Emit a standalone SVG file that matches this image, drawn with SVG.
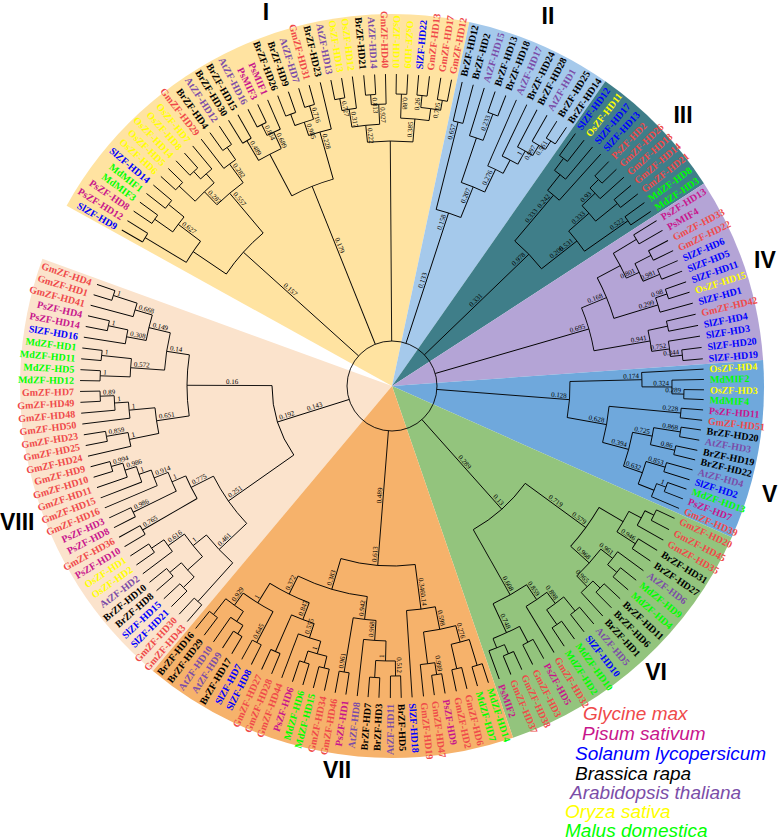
<svg xmlns="http://www.w3.org/2000/svg" width="778" height="840" viewBox="0 0 778 840">
<style>
.gm{fill:#EF4A4A}.ps{fill:#C8168C}.sl{fill:#0000FF}.br{fill:#000}.at{fill:#7B4DA8}.os{fill:#FFFF00}.md{fill:#00FF00}
.e{text-anchor:end}.m{text-anchor:middle}
.lab{font-family:"Liberation Serif",serif;font-weight:bold;font-size:10px}
.sup{font-family:"Liberation Serif",serif;font-size:7px;fill:#000}
.num{font-family:"Liberation Sans",Arial,sans-serif;font-weight:bold;font-size:23px;fill:#000}
.leg{font-family:"Liberation Sans",Arial,sans-serif;font-style:italic;font-size:19px}
</style>
<rect width="778" height="840" fill="#fff"/>
<g id="sectors">
<path d="M392 386L152.9 671A372 372 0 0 1 42.4 258.8Z" fill="#FBE3CC"/>
<path d="M392 386L66.6 205.7A372 372 0 0 1 469.3 22.1Z" fill="#FFE3A1"/>
<path d="M392 386L469.3 22.1A372 372 0 0 1 605.4 81.3Z" fill="#A5C9EB"/>
<path d="M392 386L605.4 81.3A372 372 0 0 1 704 183.4Z" fill="#3F7E89"/>
<path d="M392 386L704 183.4A372 372 0 0 1 763.1 360Z" fill="#B4A4D6"/>
<path d="M392 386L763.1 360A372 372 0 0 1 731.8 537.3Z" fill="#6FA8DC"/>
<path d="M392 386L731.8 537.3A372 372 0 0 1 513.1 737.7Z" fill="#93C47D"/>
<path d="M392 386L513.1 737.7A372 372 0 0 1 152.9 671Z" fill="#F6B26B"/>
</g>
<g id="connectors" fill="none" stroke="#000" stroke-width="0.9" transform="translate(392 386)">
<circle r="45"/>
<path d="M288 0H312" transform="rotate(210)"/><path d="M288 0H312" transform="rotate(212)"/><path d="M290 0H312" transform="rotate(214.1)"/><path d="M290 0H312" transform="rotate(216.1)"/><path d="M288 0H312" transform="rotate(218.1)"/><path d="M288 0H312" transform="rotate(220.1)"/><path d="M292 0H312" transform="rotate(222.2)"/><path d="M292 0H312" transform="rotate(224.2)"/><path d="M292 0H312" transform="rotate(226.2)"/><path d="M292 0H312" transform="rotate(228.3)"/><path d="M282 0H312" transform="rotate(230.3)"/><path d="M275 0H312" transform="rotate(232.3)"/><path d="M290 0H312" transform="rotate(234.3)"/><path d="M290 0H312" transform="rotate(236.4)"/><path d="M285 0H312" transform="rotate(238.4)"/><path d="M285 0H312" transform="rotate(240.4)"/><path d="M292 0H312" transform="rotate(242.5)"/><path d="M292 0H312" transform="rotate(244.5)"/><path d="M280 0H312" transform="rotate(246.5)"/><path d="M290 0H312" transform="rotate(248.5)"/><path d="M290 0H312" transform="rotate(250.6)"/><path d="M292 0H312" transform="rotate(252.6)"/><path d="M292 0H312" transform="rotate(254.6)"/><path d="M264 0H312" transform="rotate(256.7)"/><path d="M292 0H312" transform="rotate(258.7)"/><path d="M292 0H312" transform="rotate(260.7)"/><path d="M280 0H312" transform="rotate(262.7)"/><path d="M292 0H312" transform="rotate(264.8)"/><path d="M292 0H312" transform="rotate(266.8)"/><path d="M282 0H312" transform="rotate(268.8)"/><path d="M292 0H312" transform="rotate(270.8)"/><path d="M292 0H312" transform="rotate(272.9)"/><path d="M292 0H312" transform="rotate(274.9)"/><path d="M292 0H312" transform="rotate(276.9)"/><path d="M290 0H312" transform="rotate(279)"/><path d="M290 0H312" transform="rotate(281)"/>
<path d="M268 0H290" transform="rotate(215.1)"/><path d="M268 0H288" transform="rotate(219.1)"/><path d="M240 0H288" transform="rotate(211)"/><path d="M240 0H268" transform="rotate(217.1)"/><path d="M282 0H292" transform="rotate(227.25)"/><path d="M270 0H292" transform="rotate(223.2)"/><path d="M270 0H282" transform="rotate(228.8)"/><path d="M275 0H290" transform="rotate(235.35)"/><path d="M252 0H270" transform="rotate(226)"/><path d="M252 0H275" transform="rotate(233.8)"/><path d="M200 0H240" transform="rotate(214.05)"/><path d="M200 0H252" transform="rotate(229.9)"/><path d="M45 0H200" transform="rotate(222)"/><path d="M280 0H292" transform="rotate(243.5)"/><path d="M262 0H285" transform="rotate(239.4)"/><path d="M262 0H280" transform="rotate(245)"/><path d="M278 0H290" transform="rotate(249.55)"/><path d="M278 0H292" transform="rotate(253.6)"/><path d="M264 0H278" transform="rotate(251.6)"/><path d="M215 0H262" transform="rotate(242.2)"/><path d="M215 0H264" transform="rotate(254.15)"/><path d="M45 0H215" transform="rotate(248.2)"/><path d="M280 0H292" transform="rotate(259.7)"/><path d="M282 0H292" transform="rotate(265.8)"/><path d="M262 0H280" transform="rotate(261.2)"/><path d="M262 0H282" transform="rotate(267.3)"/><path d="M280 0H292" transform="rotate(275.9)"/><path d="M280 0H290" transform="rotate(280)"/><path d="M268 0H292" transform="rotate(271.85)"/><path d="M268 0H280" transform="rotate(277.95)"/><path d="M245 0H262" transform="rotate(264.25)"/><path d="M245 0H268" transform="rotate(274.9)"/><path d="M45 0H245" transform="rotate(269.6)"/>
<circle r="288" pathLength="360" stroke-dasharray="2 360" transform="rotate(210)"/><circle r="290" pathLength="360" stroke-dasharray="2 360" transform="rotate(214.1)"/><circle r="288" pathLength="360" stroke-dasharray="2 360" transform="rotate(218.1)"/><circle r="268" pathLength="360" stroke-dasharray="4 360" transform="rotate(215.1)"/><circle r="240" pathLength="360" stroke-dasharray="6.1 360" transform="rotate(211)"/><circle r="292" pathLength="360" stroke-dasharray="2 360" transform="rotate(222.2)"/><circle r="292" pathLength="360" stroke-dasharray="2.1 360" transform="rotate(226.2)"/><circle r="282" pathLength="360" stroke-dasharray="3.05 360" transform="rotate(227.25)"/><circle r="270" pathLength="360" stroke-dasharray="5.6 360" transform="rotate(223.2)"/><circle r="290" pathLength="360" stroke-dasharray="2.1 360" transform="rotate(234.3)"/><circle r="275" pathLength="360" stroke-dasharray="3.05 360" transform="rotate(232.3)"/><circle r="252" pathLength="360" stroke-dasharray="7.8 360" transform="rotate(226)"/><circle r="200" pathLength="360" stroke-dasharray="15.85 360" transform="rotate(214.05)"/><circle r="285" pathLength="360" stroke-dasharray="2 360" transform="rotate(238.4)"/><circle r="292" pathLength="360" stroke-dasharray="2 360" transform="rotate(242.5)"/><circle r="280" pathLength="360" stroke-dasharray="3 360" transform="rotate(243.5)"/><circle r="262" pathLength="360" stroke-dasharray="5.6 360" transform="rotate(239.4)"/><circle r="290" pathLength="360" stroke-dasharray="2.1 360" transform="rotate(248.5)"/><circle r="292" pathLength="360" stroke-dasharray="2 360" transform="rotate(252.6)"/><circle r="278" pathLength="360" stroke-dasharray="4.05 360" transform="rotate(249.55)"/><circle r="264" pathLength="360" stroke-dasharray="5.1 360" transform="rotate(251.6)"/><circle r="215" pathLength="360" stroke-dasharray="11.95 360" transform="rotate(242.2)"/><circle r="292" pathLength="360" stroke-dasharray="2 360" transform="rotate(258.7)"/><circle r="280" pathLength="360" stroke-dasharray="3 360" transform="rotate(259.7)"/><circle r="292" pathLength="360" stroke-dasharray="2 360" transform="rotate(264.8)"/><circle r="282" pathLength="360" stroke-dasharray="3 360" transform="rotate(265.8)"/><circle r="262" pathLength="360" stroke-dasharray="6.1 360" transform="rotate(261.2)"/><circle r="292" pathLength="360" stroke-dasharray="2.1 360" transform="rotate(270.8)"/><circle r="292" pathLength="360" stroke-dasharray="2 360" transform="rotate(274.9)"/><circle r="290" pathLength="360" stroke-dasharray="2 360" transform="rotate(279)"/><circle r="280" pathLength="360" stroke-dasharray="4.1 360" transform="rotate(275.9)"/><circle r="268" pathLength="360" stroke-dasharray="6.1 360" transform="rotate(271.85)"/><circle r="245" pathLength="360" stroke-dasharray="10.65 360" transform="rotate(264.25)"/>
<path d="M272 0H312" transform="rotate(283)"/><path d="M272 0H312" transform="rotate(285.1)"/><path d="M262 0H312" transform="rotate(287.2)"/><path d="M290 0H312" transform="rotate(289.3)"/><path d="M290 0H312" transform="rotate(291.4)"/><path d="M240 0H312" transform="rotate(293.5)"/><path d="M255 0H312" transform="rotate(295.6)"/><path d="M270 0H312" transform="rotate(297.7)"/><path d="M282 0H312" transform="rotate(299.8)"/><path d="M292 0H312" transform="rotate(301.9)"/><path d="M292 0H312" transform="rotate(304)"/>
<path d="M262 0H290" transform="rotate(290.35)"/><path d="M282 0H292" transform="rotate(302.95)"/><path d="M270 0H282" transform="rotate(301.4)"/><path d="M255 0H270" transform="rotate(299.55)"/><path d="M240 0H255" transform="rotate(297.6)"/><path d="M215 0H262" transform="rotate(288.8)"/><path d="M215 0H240" transform="rotate(295.55)"/><path d="M182 0H272" transform="rotate(284.05)"/><path d="M182 0H215" transform="rotate(292.2)"/><path d="M45 0H182" transform="rotate(288.1)"/>
<circle r="272" pathLength="360" stroke-dasharray="2.1 360" transform="rotate(283)"/><circle r="290" pathLength="360" stroke-dasharray="2.1 360" transform="rotate(289.3)"/><circle r="262" pathLength="360" stroke-dasharray="3.15 360" transform="rotate(287.2)"/><circle r="292" pathLength="360" stroke-dasharray="2.1 360" transform="rotate(301.9)"/><circle r="282" pathLength="360" stroke-dasharray="3.15 360" transform="rotate(299.8)"/><circle r="270" pathLength="360" stroke-dasharray="3.7 360" transform="rotate(297.7)"/><circle r="255" pathLength="360" stroke-dasharray="3.95 360" transform="rotate(295.6)"/><circle r="240" pathLength="360" stroke-dasharray="4.1 360" transform="rotate(293.5)"/><circle r="215" pathLength="360" stroke-dasharray="6.75 360" transform="rotate(288.8)"/><circle r="182" pathLength="360" stroke-dasharray="8.15 360" transform="rotate(284.05)"/>
<path d="M285 0H312" transform="rotate(306)"/><path d="M285 0H312" transform="rotate(308)"/><path d="M270 0H312" transform="rotate(310)"/><path d="M250 0H312" transform="rotate(312)"/><path d="M292 0H312" transform="rotate(314)"/><path d="M292 0H312" transform="rotate(316)"/><path d="M280 0H312" transform="rotate(318)"/><path d="M290 0H312" transform="rotate(320)"/><path d="M290 0H312" transform="rotate(322)"/><path d="M288 0H312" transform="rotate(324)"/><path d="M288 0H312" transform="rotate(326)"/>
<path d="M270 0H285" transform="rotate(307)"/><path d="M250 0H270" transform="rotate(308.5)"/><path d="M280 0H292" transform="rotate(315)"/><path d="M262 0H280" transform="rotate(316.5)"/><path d="M262 0H290" transform="rotate(321)"/><path d="M235 0H262" transform="rotate(318.75)"/><path d="M235 0H288" transform="rotate(325)"/><path d="M190 0H250" transform="rotate(310.25)"/><path d="M190 0H235" transform="rotate(321.9)"/><path d="M45 0H190" transform="rotate(316.1)"/>
<circle r="285" pathLength="360" stroke-dasharray="2 360" transform="rotate(306)"/><circle r="270" pathLength="360" stroke-dasharray="3 360" transform="rotate(307)"/><circle r="250" pathLength="360" stroke-dasharray="3.5 360" transform="rotate(308.5)"/><circle r="292" pathLength="360" stroke-dasharray="2 360" transform="rotate(314)"/><circle r="280" pathLength="360" stroke-dasharray="3 360" transform="rotate(315)"/><circle r="290" pathLength="360" stroke-dasharray="2 360" transform="rotate(320)"/><circle r="262" pathLength="360" stroke-dasharray="4.5 360" transform="rotate(316.5)"/><circle r="288" pathLength="360" stroke-dasharray="2 360" transform="rotate(324)"/><circle r="235" pathLength="360" stroke-dasharray="6.25 360" transform="rotate(318.75)"/><circle r="190" pathLength="360" stroke-dasharray="11.65 360" transform="rotate(310.25)"/>
<path d="M285 0H312" transform="rotate(328)"/><path d="M285 0H312" transform="rotate(330.1)"/><path d="M290 0H312" transform="rotate(332.2)"/><path d="M290 0H312" transform="rotate(334.3)"/><path d="M290 0H312" transform="rotate(336.3)"/><path d="M290 0H312" transform="rotate(338.4)"/><path d="M290 0H312" transform="rotate(340.5)"/><path d="M290 0H312" transform="rotate(342.5)"/><path d="M278 0H312" transform="rotate(344.6)"/><path d="M282 0H312" transform="rotate(346.7)"/><path d="M282 0H312" transform="rotate(348.8)"/><path d="M280 0H312" transform="rotate(350.8)"/><path d="M292 0H312" transform="rotate(352.9)"/><path d="M292 0H312" transform="rotate(355)"/>
<path d="M272 0H290" transform="rotate(333.25)"/><path d="M272 0H290" transform="rotate(337.35)"/><path d="M258 0H285" transform="rotate(329.05)"/><path d="M258 0H272" transform="rotate(335.3)"/><path d="M278 0H290" transform="rotate(341.5)"/><path d="M232 0H258" transform="rotate(332.2)"/><path d="M232 0H278" transform="rotate(343.05)"/><path d="M280 0H292" transform="rotate(353.95)"/><path d="M262 0H282" transform="rotate(347.75)"/><path d="M262 0H280" transform="rotate(352.4)"/><path d="M205 0H232" transform="rotate(337.6)"/><path d="M205 0H262" transform="rotate(350.1)"/><path d="M45 0H205" transform="rotate(343.85)"/>
<circle r="285" pathLength="360" stroke-dasharray="2.1 360" transform="rotate(328)"/><circle r="290" pathLength="360" stroke-dasharray="2.1 360" transform="rotate(332.2)"/><circle r="290" pathLength="360" stroke-dasharray="2.1 360" transform="rotate(336.3)"/><circle r="272" pathLength="360" stroke-dasharray="4.1 360" transform="rotate(333.25)"/><circle r="258" pathLength="360" stroke-dasharray="6.25 360" transform="rotate(329.05)"/><circle r="290" pathLength="360" stroke-dasharray="2 360" transform="rotate(340.5)"/><circle r="278" pathLength="360" stroke-dasharray="3.1 360" transform="rotate(341.5)"/><circle r="232" pathLength="360" stroke-dasharray="10.85 360" transform="rotate(332.2)"/><circle r="282" pathLength="360" stroke-dasharray="2.1 360" transform="rotate(346.7)"/><circle r="292" pathLength="360" stroke-dasharray="2.1 360" transform="rotate(352.9)"/><circle r="280" pathLength="360" stroke-dasharray="3.15 360" transform="rotate(350.8)"/><circle r="262" pathLength="360" stroke-dasharray="4.65 360" transform="rotate(347.75)"/><circle r="205" pathLength="360" stroke-dasharray="12.5 360" transform="rotate(337.6)"/>
<path d="M250 0H312" transform="rotate(-3.1)"/><path d="M280 0H312" transform="rotate(-1.2)"/><path d="M292 0H312" transform="rotate(0.7)"/><path d="M292 0H312" transform="rotate(2.5)"/><path d="M290 0H312" transform="rotate(4.4)"/><path d="M290 0H312" transform="rotate(6.3)"/><path d="M292 0H312" transform="rotate(8.1)"/><path d="M292 0H312" transform="rotate(10)"/><path d="M290 0H312" transform="rotate(11.9)"/><path d="M290 0H312" transform="rotate(13.7)"/><path d="M285 0H312" transform="rotate(15.6)"/><path d="M285 0H312" transform="rotate(17.5)"/><path d="M292 0H312" transform="rotate(19.3)"/><path d="M292 0H312" transform="rotate(21.2)"/><path d="M282 0H312" transform="rotate(23.1)"/>
<path d="M280 0H292" transform="rotate(1.6)"/><path d="M250 0H280" transform="rotate(0.2)"/><path d="M265 0H292" transform="rotate(9.05)"/><path d="M265 0H290" transform="rotate(12.8)"/><path d="M282 0H292" transform="rotate(20.25)"/><path d="M265 0H285" transform="rotate(16.55)"/><path d="M265 0H282" transform="rotate(21.7)"/><path d="M245 0H265" transform="rotate(10.9)"/><path d="M245 0H265" transform="rotate(19.1)"/><path d="M218 0H290" transform="rotate(5.35)"/><path d="M218 0H245" transform="rotate(15)"/><path d="M178 0H250" transform="rotate(-1.45)"/><path d="M178 0H218" transform="rotate(10.2)"/><path d="M45 0H178" transform="rotate(4.4)"/>
<circle r="292" pathLength="360" stroke-dasharray="1.8 360" transform="rotate(0.7)"/><circle r="280" pathLength="360" stroke-dasharray="2.8 360" transform="rotate(-1.2)"/><circle r="250" pathLength="360" stroke-dasharray="3.3 360" transform="rotate(-3.1)"/><circle r="290" pathLength="360" stroke-dasharray="1.9 360" transform="rotate(4.4)"/><circle r="292" pathLength="360" stroke-dasharray="1.9 360" transform="rotate(8.1)"/><circle r="290" pathLength="360" stroke-dasharray="1.8 360" transform="rotate(11.9)"/><circle r="265" pathLength="360" stroke-dasharray="3.75 360" transform="rotate(9.05)"/><circle r="285" pathLength="360" stroke-dasharray="1.9 360" transform="rotate(15.6)"/><circle r="292" pathLength="360" stroke-dasharray="1.9 360" transform="rotate(19.3)"/><circle r="282" pathLength="360" stroke-dasharray="2.85 360" transform="rotate(20.25)"/><circle r="265" pathLength="360" stroke-dasharray="5.15 360" transform="rotate(16.55)"/><circle r="245" pathLength="360" stroke-dasharray="8.2 360" transform="rotate(10.9)"/><circle r="218" pathLength="360" stroke-dasharray="9.65 360" transform="rotate(5.35)"/><circle r="178" pathLength="360" stroke-dasharray="11.65 360" transform="rotate(-1.45)"/>
<path d="M292 0H312" transform="rotate(25.1)"/><path d="M292 0H312" transform="rotate(27.4)"/><path d="M282 0H312" transform="rotate(29.6)"/><path d="M290 0H312" transform="rotate(31.8)"/><path d="M290 0H312" transform="rotate(34.1)"/><path d="M280 0H312" transform="rotate(36.3)"/><path d="M292 0H312" transform="rotate(38.5)"/><path d="M292 0H312" transform="rotate(40.8)"/><path d="M290 0H312" transform="rotate(43)"/><path d="M290 0H312" transform="rotate(45.3)"/><path d="M280 0H312" transform="rotate(47.5)"/><path d="M290 0H312" transform="rotate(49.7)"/><path d="M290 0H312" transform="rotate(52)"/><path d="M290 0H312" transform="rotate(54.2)"/><path d="M290 0H312" transform="rotate(56.5)"/><path d="M258 0H312" transform="rotate(58.7)"/><path d="M290 0H312" transform="rotate(60.9)"/><path d="M290 0H312" transform="rotate(63.2)"/><path d="M292 0H312" transform="rotate(65.4)"/><path d="M292 0H312" transform="rotate(67.6)"/><path d="M282 0H312" transform="rotate(69.9)"/>
<path d="M282 0H292" transform="rotate(26.25)"/><path d="M268 0H282" transform="rotate(27.9)"/><path d="M268 0H290" transform="rotate(32.95)"/><path d="M280 0H292" transform="rotate(39.65)"/><path d="M280 0H290" transform="rotate(44.15)"/><path d="M265 0H280" transform="rotate(38)"/><path d="M265 0H280" transform="rotate(45.8)"/><path d="M240 0H268" transform="rotate(30.4)"/><path d="M240 0H265" transform="rotate(41.9)"/><path d="M272 0H290" transform="rotate(50.85)"/><path d="M272 0H290" transform="rotate(55.35)"/><path d="M258 0H272" transform="rotate(53.1)"/><path d="M282 0H292" transform="rotate(66.5)"/><path d="M272 0H290" transform="rotate(62.05)"/><path d="M272 0H282" transform="rotate(68.2)"/><path d="M240 0H258" transform="rotate(55.9)"/><path d="M240 0H272" transform="rotate(65.1)"/><path d="M165 0H240" transform="rotate(36.15)"/><path d="M165 0H240" transform="rotate(60.5)"/><path d="M45 0H165" transform="rotate(48.3)"/>
<circle r="292" pathLength="360" stroke-dasharray="2.3 360" transform="rotate(25.1)"/><circle r="282" pathLength="360" stroke-dasharray="3.35 360" transform="rotate(26.25)"/><circle r="290" pathLength="360" stroke-dasharray="2.3 360" transform="rotate(31.8)"/><circle r="268" pathLength="360" stroke-dasharray="5.05 360" transform="rotate(27.9)"/><circle r="292" pathLength="360" stroke-dasharray="2.3 360" transform="rotate(38.5)"/><circle r="280" pathLength="360" stroke-dasharray="3.35 360" transform="rotate(36.3)"/><circle r="290" pathLength="360" stroke-dasharray="2.3 360" transform="rotate(43)"/><circle r="280" pathLength="360" stroke-dasharray="3.35 360" transform="rotate(44.15)"/><circle r="265" pathLength="360" stroke-dasharray="7.8 360" transform="rotate(38)"/><circle r="240" pathLength="360" stroke-dasharray="11.5 360" transform="rotate(30.4)"/><circle r="290" pathLength="360" stroke-dasharray="2.3 360" transform="rotate(49.7)"/><circle r="290" pathLength="360" stroke-dasharray="2.3 360" transform="rotate(54.2)"/><circle r="272" pathLength="360" stroke-dasharray="4.5 360" transform="rotate(50.85)"/><circle r="258" pathLength="360" stroke-dasharray="5.6 360" transform="rotate(53.1)"/><circle r="290" pathLength="360" stroke-dasharray="2.3 360" transform="rotate(60.9)"/><circle r="292" pathLength="360" stroke-dasharray="2.2 360" transform="rotate(65.4)"/><circle r="282" pathLength="360" stroke-dasharray="3.4 360" transform="rotate(66.5)"/><circle r="272" pathLength="360" stroke-dasharray="6.15 360" transform="rotate(62.05)"/><circle r="240" pathLength="360" stroke-dasharray="9.2 360" transform="rotate(55.9)"/><circle r="165" pathLength="360" stroke-dasharray="24.35 360" transform="rotate(36.15)"/>
<path d="M292 0H312" transform="rotate(72)"/><path d="M292 0H312" transform="rotate(74.1)"/><path d="M290 0H312" transform="rotate(76.1)"/><path d="M290 0H312" transform="rotate(78.1)"/><path d="M292 0H312" transform="rotate(80.2)"/><path d="M292 0H312" transform="rotate(82.2)"/><path d="M280 0H312" transform="rotate(84.2)"/><path d="M225 0H312" transform="rotate(86.3)"/><path d="M290 0H312" transform="rotate(88.3)"/><path d="M290 0H312" transform="rotate(90.3)"/><path d="M292 0H312" transform="rotate(92.4)"/><path d="M292 0H312" transform="rotate(94.4)"/><path d="M255 0H312" transform="rotate(96.4)"/><path d="M290 0H312" transform="rotate(98.5)"/><path d="M290 0H312" transform="rotate(100.5)"/><path d="M290 0H312" transform="rotate(102.5)"/><path d="M290 0H312" transform="rotate(104.6)"/><path d="M290 0H312" transform="rotate(106.6)"/><path d="M290 0H312" transform="rotate(108.6)"/><path d="M265 0H312" transform="rotate(110.7)"/><path d="M290 0H312" transform="rotate(112.7)"/><path d="M290 0H312" transform="rotate(114.7)"/><path d="M290 0H312" transform="rotate(116.8)"/><path d="M290 0H312" transform="rotate(118.8)"/><path d="M292 0H312" transform="rotate(120.9)"/><path d="M292 0H312" transform="rotate(122.9)"/><path d="M282 0H312" transform="rotate(124.9)"/><path d="M290 0H312" transform="rotate(127)"/><path d="M290 0H312" transform="rotate(129)"/>
<path d="M265 0H292" transform="rotate(73.05)"/><path d="M265 0H290" transform="rotate(77.1)"/><path d="M280 0H292" transform="rotate(81.2)"/><path d="M248 0H265" transform="rotate(75.1)"/><path d="M248 0H280" transform="rotate(82.7)"/><path d="M225 0H248" transform="rotate(78.9)"/><path d="M275 0H290" transform="rotate(89.3)"/><path d="M275 0H292" transform="rotate(93.4)"/><path d="M255 0H275" transform="rotate(91.35)"/><path d="M235 0H255" transform="rotate(93.9)"/><path d="M235 0H290" transform="rotate(99.5)"/><path d="M278 0H290" transform="rotate(103.55)"/><path d="M278 0H290" transform="rotate(107.6)"/><path d="M265 0H278" transform="rotate(105.6)"/><path d="M250 0H265" transform="rotate(108.15)"/><path d="M250 0H290" transform="rotate(113.7)"/><path d="M282 0H292" transform="rotate(121.9)"/><path d="M270 0H282" transform="rotate(123.4)"/><path d="M270 0H290" transform="rotate(128)"/><path d="M255 0H290" transform="rotate(117.8)"/><path d="M255 0H270" transform="rotate(125.7)"/><path d="M232 0H250" transform="rotate(110.9)"/><path d="M232 0H255" transform="rotate(121.75)"/><path d="M212 0H235" transform="rotate(96.7)"/><path d="M212 0H232" transform="rotate(116.3)"/><path d="M180 0H225" transform="rotate(82.6)"/><path d="M180 0H212" transform="rotate(106.5)"/><path d="M45 0H180" transform="rotate(94.55)"/>
<circle r="292" pathLength="360" stroke-dasharray="2.1 360" transform="rotate(72)"/><circle r="290" pathLength="360" stroke-dasharray="2 360" transform="rotate(76.1)"/><circle r="265" pathLength="360" stroke-dasharray="4.05 360" transform="rotate(73.05)"/><circle r="292" pathLength="360" stroke-dasharray="2 360" transform="rotate(80.2)"/><circle r="280" pathLength="360" stroke-dasharray="3 360" transform="rotate(81.2)"/><circle r="248" pathLength="360" stroke-dasharray="7.6 360" transform="rotate(75.1)"/><circle r="225" pathLength="360" stroke-dasharray="7.4 360" transform="rotate(78.9)"/><circle r="290" pathLength="360" stroke-dasharray="2 360" transform="rotate(88.3)"/><circle r="292" pathLength="360" stroke-dasharray="2 360" transform="rotate(92.4)"/><circle r="275" pathLength="360" stroke-dasharray="4.1 360" transform="rotate(89.3)"/><circle r="255" pathLength="360" stroke-dasharray="5.05 360" transform="rotate(91.35)"/><circle r="290" pathLength="360" stroke-dasharray="2 360" transform="rotate(98.5)"/><circle r="235" pathLength="360" stroke-dasharray="5.6 360" transform="rotate(93.9)"/><circle r="290" pathLength="360" stroke-dasharray="2.1 360" transform="rotate(102.5)"/><circle r="290" pathLength="360" stroke-dasharray="2 360" transform="rotate(106.6)"/><circle r="278" pathLength="360" stroke-dasharray="4.05 360" transform="rotate(103.55)"/><circle r="265" pathLength="360" stroke-dasharray="5.1 360" transform="rotate(105.6)"/><circle r="290" pathLength="360" stroke-dasharray="2 360" transform="rotate(112.7)"/><circle r="250" pathLength="360" stroke-dasharray="5.55 360" transform="rotate(108.15)"/><circle r="290" pathLength="360" stroke-dasharray="2 360" transform="rotate(116.8)"/><circle r="292" pathLength="360" stroke-dasharray="2 360" transform="rotate(120.9)"/><circle r="282" pathLength="360" stroke-dasharray="3 360" transform="rotate(121.9)"/><circle r="290" pathLength="360" stroke-dasharray="2 360" transform="rotate(127)"/><circle r="270" pathLength="360" stroke-dasharray="4.6 360" transform="rotate(123.4)"/><circle r="255" pathLength="360" stroke-dasharray="7.9 360" transform="rotate(117.8)"/><circle r="232" pathLength="360" stroke-dasharray="10.85 360" transform="rotate(110.9)"/><circle r="212" pathLength="360" stroke-dasharray="19.6 360" transform="rotate(96.7)"/><circle r="180" pathLength="360" stroke-dasharray="23.9 360" transform="rotate(82.6)"/>
<path d="M290 0H312" transform="rotate(131)"/><path d="M290 0H312" transform="rotate(133)"/><path d="M290 0H312" transform="rotate(135)"/><path d="M290 0H312" transform="rotate(137)"/><path d="M290 0H312" transform="rotate(139)"/><path d="M290 0H312" transform="rotate(141)"/><path d="M275 0H312" transform="rotate(143)"/><path d="M290 0H312" transform="rotate(145)"/><path d="M290 0H312" transform="rotate(147)"/><path d="M288 0H312" transform="rotate(149)"/><path d="M288 0H312" transform="rotate(151)"/><path d="M288 0H312" transform="rotate(153)"/><path d="M288 0H312" transform="rotate(155)"/><path d="M255 0H312" transform="rotate(157)"/><path d="M268 0H312" transform="rotate(159)"/><path d="M280 0H312" transform="rotate(161)"/><path d="M292 0H312" transform="rotate(163)"/><path d="M292 0H312" transform="rotate(165)"/><path d="M268 0H312" transform="rotate(167)"/><path d="M290 0H312" transform="rotate(169)"/><path d="M290 0H312" transform="rotate(171)"/><path d="M264 0H312" transform="rotate(173)"/><path d="M278 0H312" transform="rotate(175)"/><path d="M292 0H312" transform="rotate(177)"/><path d="M292 0H312" transform="rotate(179)"/><path d="M292 0H312" transform="rotate(181)"/><path d="M292 0H312" transform="rotate(183)"/><path d="M292 0H312" transform="rotate(185)"/><path d="M292 0H312" transform="rotate(187)"/><path d="M270 0H312" transform="rotate(189)"/><path d="M290 0H312" transform="rotate(191)"/><path d="M290 0H312" transform="rotate(193)"/><path d="M268 0H312" transform="rotate(195)"/><path d="M293 0H312" transform="rotate(197)"/><path d="M293 0H312" transform="rotate(199)"/>
<path d="M268 0H293" transform="rotate(198)"/><path d="M270 0H290" transform="rotate(192)"/><path d="M250 0H268" transform="rotate(196.5)"/><path d="M250 0H270" transform="rotate(190.5)"/><path d="M262 0H292" transform="rotate(186)"/><path d="M262 0H292" transform="rotate(182)"/><path d="M228 0H250" transform="rotate(193.5)"/><path d="M228 0H262" transform="rotate(184)"/><path d="M278 0H292" transform="rotate(178)"/><path d="M264 0H278" transform="rotate(176.5)"/><path d="M268 0H290" transform="rotate(170)"/><path d="M238 0H264" transform="rotate(174.75)"/><path d="M238 0H268" transform="rotate(168.5)"/><path d="M205 0H228" transform="rotate(188.75)"/><path d="M205 0H238" transform="rotate(171.6)"/><path d="M280 0H292" transform="rotate(164)"/><path d="M268 0H280" transform="rotate(162.5)"/><path d="M255 0H268" transform="rotate(160.75)"/><path d="M240 0H255" transform="rotate(158.9)"/><path d="M240 0H288" transform="rotate(154)"/><path d="M225 0H240" transform="rotate(156.45)"/><path d="M225 0H288" transform="rotate(150)"/><path d="M275 0H290" transform="rotate(146)"/><path d="M275 0H290" transform="rotate(140)"/><path d="M275 0H290" transform="rotate(136)"/><path d="M255 0H275" transform="rotate(144.5)"/><path d="M255 0H275" transform="rotate(138)"/><path d="M238 0H255" transform="rotate(141.25)"/><path d="M238 0H290" transform="rotate(132)"/><path d="M200 0H225" transform="rotate(153.2)"/><path d="M200 0H238" transform="rotate(136.6)"/><path d="M120 0H200" transform="rotate(144.9)"/><path d="M120 0H205" transform="rotate(180.2)"/><path d="M45 0H120" transform="rotate(162.55)"/>
<circle r="293" pathLength="360" stroke-dasharray="2 360" transform="rotate(197)"/><circle r="268" pathLength="360" stroke-dasharray="3 360" transform="rotate(195)"/><circle r="290" pathLength="360" stroke-dasharray="2 360" transform="rotate(191)"/><circle r="270" pathLength="360" stroke-dasharray="3 360" transform="rotate(189)"/><circle r="250" pathLength="360" stroke-dasharray="6 360" transform="rotate(190.5)"/><circle r="292" pathLength="360" stroke-dasharray="2 360" transform="rotate(185)"/><circle r="292" pathLength="360" stroke-dasharray="2 360" transform="rotate(181)"/><circle r="262" pathLength="360" stroke-dasharray="4 360" transform="rotate(182)"/><circle r="228" pathLength="360" stroke-dasharray="9.5 360" transform="rotate(184)"/><circle r="292" pathLength="360" stroke-dasharray="2 360" transform="rotate(177)"/><circle r="278" pathLength="360" stroke-dasharray="3 360" transform="rotate(175)"/><circle r="264" pathLength="360" stroke-dasharray="3.5 360" transform="rotate(173)"/><circle r="290" pathLength="360" stroke-dasharray="2 360" transform="rotate(169)"/><circle r="268" pathLength="360" stroke-dasharray="3 360" transform="rotate(167)"/><circle r="238" pathLength="360" stroke-dasharray="6.25 360" transform="rotate(168.5)"/><circle r="205" pathLength="360" stroke-dasharray="17.15 360" transform="rotate(171.6)"/><circle r="292" pathLength="360" stroke-dasharray="2 360" transform="rotate(163)"/><circle r="280" pathLength="360" stroke-dasharray="3 360" transform="rotate(161)"/><circle r="268" pathLength="360" stroke-dasharray="3.5 360" transform="rotate(159)"/><circle r="255" pathLength="360" stroke-dasharray="3.75 360" transform="rotate(157)"/><circle r="288" pathLength="360" stroke-dasharray="2 360" transform="rotate(153)"/><circle r="240" pathLength="360" stroke-dasharray="4.9 360" transform="rotate(154)"/><circle r="288" pathLength="360" stroke-dasharray="2 360" transform="rotate(149)"/><circle r="225" pathLength="360" stroke-dasharray="6.45 360" transform="rotate(150)"/><circle r="290" pathLength="360" stroke-dasharray="2 360" transform="rotate(145)"/><circle r="275" pathLength="360" stroke-dasharray="3 360" transform="rotate(143)"/><circle r="290" pathLength="360" stroke-dasharray="2 360" transform="rotate(139)"/><circle r="290" pathLength="360" stroke-dasharray="2 360" transform="rotate(135)"/><circle r="275" pathLength="360" stroke-dasharray="4 360" transform="rotate(136)"/><circle r="255" pathLength="360" stroke-dasharray="6.5 360" transform="rotate(138)"/><circle r="290" pathLength="360" stroke-dasharray="2 360" transform="rotate(131)"/><circle r="238" pathLength="360" stroke-dasharray="9.25 360" transform="rotate(132)"/><circle r="200" pathLength="360" stroke-dasharray="16.6 360" transform="rotate(136.6)"/><circle r="120" pathLength="360" stroke-dasharray="35.3 360" transform="rotate(144.9)"/>
</g>
<g id="support" class="sup" transform="translate(392 386)">
<text transform="rotate(37.1)" x="-265" y="-1.5">0.627</text><text transform="rotate(46)" x="-267" y="-1.5">0.287</text><text transform="rotate(53.8)" x="-272" y="-1.5">0.282</text><text transform="rotate(49.9)" x="-249" y="-1.5">0.557</text><text transform="rotate(59.4)" x="-282" y="-1.5">0.489</text><text transform="rotate(63.5)" x="-289" y="-1.5">0.804</text><text transform="rotate(65)" x="-277" y="-1.5">0.689</text><text transform="rotate(73.6)" x="-289" y="-1.5">0.716</text><text transform="rotate(71.6)" x="-275" y="-1.5">0.985</text><text transform="rotate(74.15)" x="-261" y="-1.5">0.228</text><text transform="rotate(79.7)" x="-289" y="-1.5">0.727</text><text transform="rotate(81.2)" x="-277" y="-1.5">0.317</text><text transform="rotate(85.8)" x="-289" y="-1.5">0.813</text><text transform="rotate(87.3)" x="-279" y="-1.5">0.927</text><text transform="rotate(84.25)" x="-259" y="-1.5">0.222</text><text transform="rotate(91.85)" x="-289" y="-1.5">0.88</text><text class="e" transform="rotate(275.9)" x="289" y="-1.5">0.26</text><text class="e" transform="rotate(280)" x="287" y="-1.5">0.705</text><text class="e" transform="rotate(274.9)" x="265" y="-1.5">0.385</text><text class="m" transform="rotate(42)" x="-140" y="-1.5">0.157</text><text class="m" transform="rotate(68.2)" x="-150" y="-1.5">0.179</text>
<text class="e" transform="rotate(284.05)" x="269" y="-1.5">0.657</text><text class="e" transform="rotate(290.35)" x="287" y="-1.5">0.233</text><text class="e" transform="rotate(302.95)" x="289" y="-1.5">0.561</text><text class="e" transform="rotate(301.4)" x="279" y="-1.5">0.997</text><text class="e" transform="rotate(299.55)" x="267" y="-1.5">1</text><text class="e" transform="rotate(295.55)" x="237" y="-1.5">0.276</text><text class="e" transform="rotate(292.2)" x="212" y="-1.5">0.207</text><text class="e" transform="rotate(288.1)" x="179" y="-1.5">0.158</text><text class="m" transform="rotate(288.1)" x="110" y="-1.5">0.133</text>
<text class="e" transform="rotate(310.25)" x="247" y="-1.5">0.242</text><text class="e" transform="rotate(316.5)" x="277" y="-1.5">0.93</text><text class="e" transform="rotate(318.75)" x="259" y="-1.5">0.333</text><text class="e" transform="rotate(325)" x="285" y="-1.5">0.522</text><text class="e" transform="rotate(321.9)" x="232" y="-1.5">0.531</text><text class="e" transform="rotate(316.1)" x="187" y="-1.5">0.978</text><text class="m" transform="rotate(321.9)" x="212" y="-1.5">0.206</text><text class="m" transform="rotate(310.25)" x="220" y="-1.5">0.333</text><text class="m" transform="rotate(316.1)" x="120" y="-1.5">0.331</text>
<text class="e" transform="rotate(337.35)" x="287" y="-1.5">0.981</text><text class="e" transform="rotate(335.3)" x="269" y="-1.5">0.801</text><text class="e" transform="rotate(341.5)" x="287" y="-1.5">0.98</text><text class="e" transform="rotate(343.05)" x="275" y="-1.5">0.299</text><text class="e" transform="rotate(337.6)" x="229" y="-1.5">0.168</text><text class="e" transform="rotate(353.95)" x="289" y="-1.5">0.344</text><text class="e" transform="rotate(352.4)" x="277" y="-1.5">0.752</text><text class="e" transform="rotate(350.1)" x="259" y="-1.5">0.941</text><text class="e" transform="rotate(343.85)" x="202" y="-1.5">0.695</text>
<text class="e" transform="rotate(1.6)" x="289" y="-1.5">0.289</text><text class="e" transform="rotate(0.2)" x="277" y="-1.5">0.324</text><text class="e" transform="rotate(-1.45)" x="247" y="-1.5">0.174</text><text class="e" transform="rotate(5.35)" x="287" y="-1.5">0.228</text><text class="e" transform="rotate(9.05)" x="289" y="-1.5">0.868</text><text class="e" transform="rotate(12.8)" x="287" y="-1.5">0.86</text><text class="e" transform="rotate(10.9)" x="262" y="-1.5">0.725</text><text class="e" transform="rotate(16.55)" x="282" y="-1.5">0.853</text><text class="e" transform="rotate(20.25)" x="289" y="-1.5">1</text><text class="e" transform="rotate(19.1)" x="262" y="-1.5">0.632</text><text class="e" transform="rotate(15)" x="242" y="-1.5">0.394</text><text class="e" transform="rotate(10.2)" x="215" y="-1.5">0.628</text><text class="e" transform="rotate(4.4)" x="175" y="-1.5">0.128</text>
<text class="e" transform="rotate(32.95)" x="287" y="-1.5">0.946</text><text class="e" transform="rotate(38)" x="277" y="-1.5">0.961</text><text class="e" transform="rotate(45.8)" x="277" y="-1.5">0.965</text><text class="e" transform="rotate(41.9)" x="262" y="-1.5">0.968</text><text class="e" transform="rotate(36.15)" x="237" y="-1.5">0.579</text><text class="e" transform="rotate(53.1)" x="269" y="-1.5">0.898</text><text class="e" transform="rotate(55.9)" x="255" y="-1.5">0.859</text><text class="e" transform="rotate(65.1)" x="269" y="-1.5">0.748</text><text class="e" transform="rotate(60.5)" x="237" y="-1.5">0.608</text><text class="e" transform="rotate(48.3)" x="162" y="-1.5">0.13</text><text class="m" transform="rotate(36.15)" x="200" y="-1.5">0.719</text><text class="m" transform="rotate(48.3)" x="105" y="-1.5">0.289</text>
<text class="e" transform="rotate(75.1)" x="262" y="-1.5">0.276</text><text class="e" transform="rotate(81.2)" x="289" y="-1.5">0.999</text><text class="e" transform="rotate(78.9)" x="245" y="-1.5">0.598</text><text class="e" transform="rotate(82.6)" x="222" y="-1.5">0.14</text><text class="e" transform="rotate(89.3)" x="287" y="-1.5">0.512</text><text transform="rotate(-88.65)" x="-272" y="-1.5">1</text><text transform="rotate(-86.1)" x="-252" y="-1.5">0.968</text><text transform="rotate(-80.5)" x="-287" y="-1.5">0.961</text><text transform="rotate(-83.3)" x="-232" y="-1.5">0.942</text><text transform="rotate(-74.4)" x="-275" y="-1.5">1</text><text transform="rotate(-71.85)" x="-262" y="-1.5">0.555</text><text transform="rotate(-69.1)" x="-247" y="-1.5">0.847</text><text transform="rotate(-62.2)" x="-287" y="-1.5">0.645</text><text transform="rotate(-54.3)" x="-267" y="-1.5">0.929</text><text transform="rotate(-58.25)" x="-252" y="-1.5">1</text><text transform="rotate(-63.7)" x="-229" y="-1.5">0.372</text><text transform="rotate(-73.5)" x="-209" y="-1.5">0.383</text><text transform="rotate(-85.45)" x="-177" y="-1.5">0.613</text><text class="m" transform="rotate(82.6)" x="202" y="-1.5">0.346</text><text class="m" transform="rotate(-85.45)" x="-110" y="-1.5">0.489</text>
<text transform="rotate(18)" x="-290" y="-1.5">1</text><text transform="rotate(16.5)" x="-265" y="-1.5">0.668</text><text transform="rotate(12)" x="-287" y="-1.5">1</text><text transform="rotate(10.5)" x="-267" y="-1.5">0.308</text><text transform="rotate(13.5)" x="-247" y="-1.5">0.149</text><text transform="rotate(6)" x="-289" y="-1.5">1</text><text transform="rotate(2)" x="-289" y="-1.5">1</text><text transform="rotate(4)" x="-259" y="-1.5">0.572</text><text transform="rotate(8.75)" x="-225" y="-1.5">0.14</text><text transform="rotate(-2)" x="-289" y="-1.5">0.89</text><text transform="rotate(-3.5)" x="-275" y="-1.5">1</text><text transform="rotate(-5.25)" x="-261" y="-1.5">1</text><text transform="rotate(-10)" x="-287" y="-1.5">0.859</text><text transform="rotate(-11.5)" x="-265" y="-1.5">1</text><text transform="rotate(-8.4)" x="-235" y="-1.5">0.651</text><text class="m" transform="rotate(0.2)" x="-160" y="-1.5">0.16</text><text transform="rotate(-16)" x="-289" y="-1.5">0.994</text><text transform="rotate(-17.5)" x="-277" y="-1.5">0.986</text><text transform="rotate(-19.25)" x="-265" y="-1.5">1</text><text transform="rotate(-21.1)" x="-252" y="-1.5">0.914</text><text transform="rotate(-26)" x="-285" y="-1.5">0.986</text><text transform="rotate(-23.55)" x="-237" y="-1.5">1</text><text transform="rotate(-26.8)" x="-222" y="-1.5">0.775</text><text transform="rotate(-30)" x="-285" y="-1.5">0.765</text><text transform="rotate(-35.5)" x="-272" y="-1.5">0.616</text><text transform="rotate(-38.75)" x="-252" y="-1.5">1</text><text transform="rotate(-43.4)" x="-235" y="-1.5">0.461</text><text transform="rotate(-35.1)" x="-197" y="-1.5">0.251</text><text transform="rotate(-17.45)" x="-117" y="-1.5">0.192</text><text class="m" transform="rotate(-17.45)" x="-80" y="-1.5">0.143</text>
</g>
<g id="nodes" class="lab" transform="translate(392 386)">
<g id="cladeI">
<g id="I-SlZF-HD9" transform="rotate(30)"><text class="sl e" x="-318" y="3.5">SlZF-HD9</text></g>
<g id="I-PsZF-HD12" transform="rotate(32)"><text class="ps e" x="-318" y="3.5">PsZF-HD12</text></g>
<g id="I-PsZF-HD8" transform="rotate(34.1)"><text class="ps e" x="-318" y="3.5">PsZF-HD8</text></g>
<g id="I-MdMIF3" transform="rotate(36.1)"><text class="md e" x="-318" y="3.5">MdMIF3</text></g>
<g id="I-MdMIF1" transform="rotate(38.1)"><text class="md e" x="-318" y="3.5">MdMIF1</text></g>
<g id="I-SlZF-HD14" transform="rotate(40.1)"><text class="sl e" x="-318" y="3.5">SlZF-HD14</text></g>
<g id="I-OsZF-HD6" transform="rotate(42.2)"><text class="os e" x="-318" y="3.5">OsZF-HD6</text></g>
<g id="I-OsZF-HD5" transform="rotate(44.2)"><text class="os e" x="-318" y="3.5">OsZF-HD5</text></g>
<g id="I-OsZF-HD14" transform="rotate(46.2)"><text class="os e" x="-318" y="3.5">OsZF-HD14</text></g>
<g id="I-OsZF-HD8" transform="rotate(48.3)"><text class="os e" x="-318" y="3.5">OsZF-HD8</text></g>
<g id="I-OsZF-HD7" transform="rotate(50.3)"><text class="os e" x="-318" y="3.5">OsZF-HD7</text></g>
<g id="I-GmZF-HD29" transform="rotate(52.3)"><text class="gm e" x="-318" y="3.5">GmZF-HD29</text></g>
<g id="I-BrZF-HD4" transform="rotate(54.3)"><text class="br e" x="-318" y="3.5">BrZF-HD4</text></g>
<g id="I-AtZF-HD12" transform="rotate(56.4)"><text class="at e" x="-318" y="3.5">AtZF-HD12</text></g>
<g id="I-BrZF-HD30" transform="rotate(58.4)"><text class="br e" x="-318" y="3.5">BrZF-HD30</text></g>
<g id="I-BrZF-HD15" transform="rotate(60.4)"><text class="br e" x="-318" y="3.5">BrZF-HD15</text></g>
<g id="I-AtZF-HD16" transform="rotate(62.5)"><text class="at e" x="-318" y="3.5">AtZF-HD16</text></g>
<g id="I-PsMIF3" transform="rotate(64.5)"><text class="ps e" x="-318" y="3.5">PsMIF3</text></g>
<g id="I-PsMIF1" transform="rotate(66.5)"><text class="ps e" x="-318" y="3.5">PsMIF1</text></g>
<g id="I-BrZF-HD26" transform="rotate(68.5)"><text class="br e" x="-318" y="3.5">BrZF-HD26</text></g>
<g id="I-BrZF-HD9" transform="rotate(70.6)"><text class="br e" x="-318" y="3.5">BrZF-HD9</text></g>
<g id="I-AtZF-HD7" transform="rotate(72.6)"><text class="at e" x="-318" y="3.5">AtZF-HD7</text></g>
<g id="I-GmZF-HD31" transform="rotate(74.6)"><text class="gm e" x="-318" y="3.5">GmZF-HD31</text></g>
<g id="I-BrZF-HD23" transform="rotate(76.7)"><text class="br e" x="-318" y="3.5">BrZF-HD23</text></g>
<g id="I-AtZF-HD13" transform="rotate(78.7)"><text class="at e" x="-318" y="3.5">AtZF-HD13</text></g>
<g id="I-OsZF-HD13" transform="rotate(80.7)"><text class="os e" x="-318" y="3.5">OsZF-HD13</text></g>
<g id="I-OsZF-HD12" transform="rotate(82.7)"><text class="os e" x="-318" y="3.5">OsZF-HD12</text></g>
<g id="I-BrZF-HD21" transform="rotate(84.8)"><text class="br e" x="-318" y="3.5">BrZF-HD21</text></g>
<g id="I-AtZF-HD14" transform="rotate(86.8)"><text class="at e" x="-318" y="3.5">AtZF-HD14</text></g>
<g id="I-GmZF-HD40" transform="rotate(88.8)"><text class="gm e" x="-318" y="3.5">GmZF-HD40</text></g>
<g id="I-OsZF-HD10" transform="rotate(90.8)"><text class="os e" x="-318" y="3.5">OsZF-HD10</text></g>
<g id="I-OsZF-HD9" transform="rotate(92.9)"><text class="os e" x="-318" y="3.5">OsZF-HD9</text></g>
<g id="I-SlZF-HD22" transform="rotate(274.9)"><text class="sl" x="318" y="3.5">SlZF-HD22</text></g>
<g id="I-GmZF-HD13" transform="rotate(276.9)"><text class="gm" x="318" y="3.5">GmZF-HD13</text></g>
<g id="I-GmZF-HD17" transform="rotate(279)"><text class="gm" x="318" y="3.5">GmZF-HD17</text></g>
<g id="I-GmZF-HD12" transform="rotate(281)"><text class="gm" x="318" y="3.5">GmZF-HD12</text></g>
</g>
<g id="cladeII">
<g id="II-BrZF-HD12" transform="rotate(283)"><text class="br" x="318" y="3.5">BrZF-HD12</text></g>
<g id="II-BrZF-HD2" transform="rotate(285.1)"><text class="br" x="318" y="3.5">BrZF-HD2</text></g>
<g id="II-AtZF-HD15" transform="rotate(287.2)"><text class="at" x="318" y="3.5">AtZF-HD15</text></g>
<g id="II-BrZF-HD13" transform="rotate(289.3)"><text class="br" x="318" y="3.5">BrZF-HD13</text></g>
<g id="II-BrZF-HD18" transform="rotate(291.4)"><text class="br" x="318" y="3.5">BrZF-HD18</text></g>
<g id="II-AtZF-HD17" transform="rotate(293.5)"><text class="at" x="318" y="3.5">AtZF-HD17</text></g>
<g id="II-BrZF-HD24" transform="rotate(295.6)"><text class="br" x="318" y="3.5">BrZF-HD24</text></g>
<g id="II-BrZF-HD28" transform="rotate(297.7)"><text class="br" x="318" y="3.5">BrZF-HD28</text></g>
<g id="II-AtZF-HD1" transform="rotate(299.8)"><text class="at" x="318" y="3.5">AtZF-HD1</text></g>
<g id="II-BrZF-HD25" transform="rotate(301.9)"><text class="br" x="318" y="3.5">BrZF-HD25</text></g>
<g id="II-BrZF-HD14" transform="rotate(304)"><text class="br" x="318" y="3.5">BrZF-HD14</text></g>
</g>
<g id="cladeIII">
<g id="III-SlZF-HD12" transform="rotate(306)"><text class="sl" x="318" y="3.5">SlZF-HD12</text></g>
<g id="III-OsZF-HD11" transform="rotate(308)"><text class="os" x="318" y="3.5">OsZF-HD11</text></g>
<g id="III-SlZF-HD17" transform="rotate(310)"><text class="sl" x="318" y="3.5">SlZF-HD17</text></g>
<g id="III-SlZF-HD13" transform="rotate(312)"><text class="sl" x="318" y="3.5">SlZF-HD13</text></g>
<g id="III-PsZF-HD2" transform="rotate(314)"><text class="gm" x="318" y="3.5">PsZF-HD2</text></g>
<g id="III-GmZF-HD26" transform="rotate(316)"><text class="gm" x="318" y="3.5">GmZF-HD26</text></g>
<g id="III-GmZF-HD18" transform="rotate(318)"><text class="gm" x="318" y="3.5">GmZF-HD18</text></g>
<g id="III-GmZF-HD14" transform="rotate(320)"><text class="gm" x="318" y="3.5">GmZF-HD14</text></g>
<g id="III-GmZF-HD21" transform="rotate(322)"><text class="gm" x="318" y="3.5">GmZF-HD21</text></g>
<g id="III-MdZF-HD8" transform="rotate(324)"><text class="md" x="318" y="3.5">MdZF-HD8</text></g>
<g id="III-MdZF-HD3" transform="rotate(326)"><text class="md" x="318" y="3.5">MdZF-HD3</text></g>
</g>
<g id="cladeIV">
<g id="IV-PsZF-HD13" transform="rotate(328)"><text class="ps" x="318" y="3.5">PsZF-HD13</text></g>
<g id="IV-PsMIF4" transform="rotate(330.1)"><text class="ps" x="318" y="3.5">PsMIF4</text></g>
<g id="IV-GmZF-HD33" transform="rotate(332.2)"><text class="gm" x="318" y="3.5">GmZF-HD33</text></g>
<g id="IV-GmZF-HD22" transform="rotate(334.3)"><text class="gm" x="318" y="3.5">GmZF-HD22</text></g>
<g id="IV-SlZF-HD6" transform="rotate(336.3)"><text class="sl" x="318" y="3.5">SlZF-HD6</text></g>
<g id="IV-SlZF-HD5" transform="rotate(338.4)"><text class="sl" x="318" y="3.5">SlZF-HD5</text></g>
<g id="IV-SlZF-HD11" transform="rotate(340.5)"><text class="sl" x="318" y="3.5">SlZF-HD11</text></g>
<g id="IV-OsZF-HD15" transform="rotate(342.5)"><text class="os" x="318" y="3.5">OsZF-HD15</text></g>
<g id="IV-SlZF-HD1" transform="rotate(344.6)"><text class="sl" x="318" y="3.5">SlZF-HD1</text></g>
<g id="IV-GmZF-HD42" transform="rotate(346.7)"><text class="gm" x="318" y="3.5">GmZF-HD42</text></g>
<g id="IV-SlZF-HD4" transform="rotate(348.8)"><text class="sl" x="318" y="3.5">SlZF-HD4</text></g>
<g id="IV-SlZF-HD3" transform="rotate(350.8)"><text class="sl" x="318" y="3.5">SlZF-HD3</text></g>
<g id="IV-SlZF-HD20" transform="rotate(352.9)"><text class="sl" x="318" y="3.5">SlZF-HD20</text></g>
<g id="IV-SlZF-HD19" transform="rotate(355)"><text class="sl" x="318" y="3.5">SlZF-HD19</text></g>
</g>
<g id="cladeV">
<g id="V-OsZF-HD4" transform="rotate(-3.1)"><text class="os" x="318" y="3.5">OsZF-HD4</text></g>
<g id="V-MdMIF2" transform="rotate(-1.2)"><text class="md" x="318" y="3.5">MdMIF2</text></g>
<g id="V-OsZF-HD3" transform="rotate(0.7)"><text class="os" x="318" y="3.5">OsZF-HD3</text></g>
<g id="V-MdMIF4" transform="rotate(2.5)"><text class="md" x="318" y="3.5">MdMIF4</text></g>
<g id="V-PsZF-HD11" transform="rotate(4.4)"><text class="ps" x="318" y="3.5">PsZF-HD11</text></g>
<g id="V-GmZF-HD51" transform="rotate(6.3)"><text class="gm" x="318" y="3.5">GmZF-HD51</text></g>
<g id="V-BrZF-HD20" transform="rotate(8.1)"><text class="br" x="318" y="3.5">BrZF-HD20</text></g>
<g id="V-AtZF-HD3" transform="rotate(10)"><text class="at" x="318" y="3.5">AtZF-HD3</text></g>
<g id="V-BrZF-HD19" transform="rotate(11.9)"><text class="br" x="318" y="3.5">BrZF-HD19</text></g>
<g id="V-BrZF-HD22" transform="rotate(13.7)"><text class="br" x="318" y="3.5">BrZF-HD22</text></g>
<g id="V-AtZF-HD4" transform="rotate(15.6)"><text class="at" x="318" y="3.5">AtZF-HD4</text></g>
<g id="V-SlZF-HD2" transform="rotate(17.5)"><text class="sl" x="318" y="3.5">SlZF-HD2</text></g>
<g id="V-MdZF-HD13" transform="rotate(19.3)"><text class="md" x="318" y="3.5">MdZF-HD13</text></g>
<g id="V-PsZF-HD7" transform="rotate(21.2)"><text class="ps" x="318" y="3.5">PsZF-HD7</text></g>
<g id="V-GmZF-HD39" transform="rotate(23.1)"><text class="gm" x="318" y="3.5">GmZF-HD39</text></g>
</g>
<g id="cladeVI">
<g id="VI-GmZF-HD20" transform="rotate(25.1)"><text class="gm" x="318" y="3.5">GmZF-HD20</text></g>
<g id="VI-GmZF-HD45" transform="rotate(27.4)"><text class="gm" x="318" y="3.5">GmZF-HD45</text></g>
<g id="VI-GmZF-HD35" transform="rotate(29.6)"><text class="gm" x="318" y="3.5">GmZF-HD35</text></g>
<g id="VI-BrZF-HD31" transform="rotate(31.8)"><text class="br" x="318" y="3.5">BrZF-HD31</text></g>
<g id="VI-BrZF-HD27" transform="rotate(34.1)"><text class="br" x="318" y="3.5">BrZF-HD27</text></g>
<g id="VI-AtZF-HD6" transform="rotate(36.3)"><text class="at" x="318" y="3.5">AtZF-HD6</text></g>
<g id="VI-MdZF-HD9" transform="rotate(38.5)"><text class="md" x="318" y="3.5">MdZF-HD9</text></g>
<g id="VI-MdZF-HD4" transform="rotate(40.8)"><text class="md" x="318" y="3.5">MdZF-HD4</text></g>
<g id="VI-BrZF-HD11" transform="rotate(43)"><text class="br" x="318" y="3.5">BrZF-HD11</text></g>
<g id="VI-BrZF-HD6" transform="rotate(45.3)"><text class="br" x="318" y="3.5">BrZF-HD6</text></g>
<g id="VI-BrZF-HD1" transform="rotate(47.5)"><text class="br" x="318" y="3.5">BrZF-HD1</text></g>
<g id="VI-AtZF-HD5" transform="rotate(49.7)"><text class="at" x="318" y="3.5">AtZF-HD5</text></g>
<g id="VI-SlZF-HD10" transform="rotate(52)"><text class="sl" x="318" y="3.5">SlZF-HD10</text></g>
<g id="VI-MdZF-HD10" transform="rotate(54.2)"><text class="md" x="318" y="3.5">MdZF-HD10</text></g>
<g id="VI-MdZF-HD2" transform="rotate(56.5)"><text class="md" x="318" y="3.5">MdZF-HD2</text></g>
<g id="VI-GmZF-HD32" transform="rotate(58.7)"><text class="gm" x="318" y="3.5">GmZF-HD32</text></g>
<g id="VI-PsZF-HD5" transform="rotate(60.9)"><text class="ps" x="318" y="3.5">PsZF-HD5</text></g>
<g id="VI-GmZF-HD3" transform="rotate(63.2)"><text class="gm" x="318" y="3.5">GmZF-HD3</text></g>
<g id="VI-GmZF-HD38" transform="rotate(65.4)"><text class="gm" x="318" y="3.5">GmZF-HD38</text></g>
<g id="VI-GmZF-HD37" transform="rotate(67.6)"><text class="gm" x="318" y="3.5">GmZF-HD37</text></g>
<g id="VI-PsMIF2" transform="rotate(69.9)"><text class="ps" x="318" y="3.5">PsMIF2</text></g>
</g>
<g id="cladeVII">
<g id="VII-MdZF-HD14" transform="rotate(72)"><text class="md" x="318" y="3.5">MdZF-HD14</text></g>
<g id="VII-MdZF-HD7" transform="rotate(74.1)"><text class="md" x="318" y="3.5">MdZF-HD7</text></g>
<g id="VII-GmZF-HD6" transform="rotate(76.1)"><text class="gm" x="318" y="3.5">GmZF-HD6</text></g>
<g id="VII-GmZF-HD2" transform="rotate(78.1)"><text class="gm" x="318" y="3.5">GmZF-HD2</text></g>
<g id="VII-PsZF-HD9" transform="rotate(80.2)"><text class="ps" x="318" y="3.5">PsZF-HD9</text></g>
<g id="VII-GmZF-HD47" transform="rotate(82.2)"><text class="gm" x="318" y="3.5">GmZF-HD47</text></g>
<g id="VII-GmZF-HD19" transform="rotate(84.2)"><text class="gm" x="318" y="3.5">GmZF-HD19</text></g>
<g id="VII-SlZF-HD18" transform="rotate(86.3)"><text class="sl" x="318" y="3.5">SlZF-HD18</text></g>
<g id="VII-BrZF-HD5" transform="rotate(88.3)"><text class="br" x="318" y="3.5">BrZF-HD5</text></g>
<g id="VII-AtZF-HD11" transform="rotate(-89.7)"><text class="at e" x="-318" y="3.5">AtZF-HD11</text></g>
<g id="VII-BrZF-HD3" transform="rotate(-87.6)"><text class="br e" x="-318" y="3.5">BrZF-HD3</text></g>
<g id="VII-BrZF-HD7" transform="rotate(-85.6)"><text class="br e" x="-318" y="3.5">BrZF-HD7</text></g>
<g id="VII-AtZF-HD8" transform="rotate(-83.6)"><text class="at e" x="-318" y="3.5">AtZF-HD8</text></g>
<g id="VII-PsZF-HD1" transform="rotate(-81.5)"><text class="ps e" x="-318" y="3.5">PsZF-HD1</text></g>
<g id="VII-GmZF-HD46" transform="rotate(-79.5)"><text class="gm e" x="-318" y="3.5">GmZF-HD46</text></g>
<g id="VII-GmZF-HD34" transform="rotate(-77.5)"><text class="gm e" x="-318" y="3.5">GmZF-HD34</text></g>
<g id="VII-MdZF-HD15" transform="rotate(-75.4)"><text class="md e" x="-318" y="3.5">MdZF-HD15</text></g>
<g id="VII-MdZF-HD6" transform="rotate(-73.4)"><text class="md e" x="-318" y="3.5">MdZF-HD6</text></g>
<g id="VII-PsZF-HD6" transform="rotate(-71.4)"><text class="ps e" x="-318" y="3.5">PsZF-HD6</text></g>
<g id="VII-GmZF-HD44" transform="rotate(-69.3)"><text class="gm e" x="-318" y="3.5">GmZF-HD44</text></g>
<g id="VII-GmZF-HD28" transform="rotate(-67.3)"><text class="gm e" x="-318" y="3.5">GmZF-HD28</text></g>
<g id="VII-GmZF-HD27" transform="rotate(-65.3)"><text class="gm e" x="-318" y="3.5">GmZF-HD27</text></g>
<g id="VII-SlZF-HD8" transform="rotate(-63.2)"><text class="sl e" x="-318" y="3.5">SlZF-HD8</text></g>
<g id="VII-SlZF-HD7" transform="rotate(-61.2)"><text class="sl e" x="-318" y="3.5">SlZF-HD7</text></g>
<g id="VII-BrZF-HD17" transform="rotate(-59.1)"><text class="br e" x="-318" y="3.5">BrZF-HD17</text></g>
<g id="VII-AtZF-HD9" transform="rotate(-57.1)"><text class="at e" x="-318" y="3.5">AtZF-HD9</text></g>
<g id="VII-AtZF-HD10" transform="rotate(-55.1)"><text class="at e" x="-318" y="3.5">AtZF-HD10</text></g>
<g id="VII-BrZF-HD29" transform="rotate(-53)"><text class="br e" x="-318" y="3.5">BrZF-HD29</text></g>
<g id="VII-BrZF-HD16" transform="rotate(-51)"><text class="br e" x="-318" y="3.5">BrZF-HD16</text></g>
</g>
<g id="cladeVIII">
<g id="VIII-GmZF-HD43" transform="rotate(-49)"><text class="gm e" x="-318" y="3.5">GmZF-HD43</text></g>
<g id="VIII-GmZF-HD30" transform="rotate(-47)"><text class="gm e" x="-318" y="3.5">GmZF-HD30</text></g>
<g id="VIII-SlZF-HD21" transform="rotate(-45)"><text class="sl e" x="-318" y="3.5">SlZF-HD21</text></g>
<g id="VIII-SlZF-HD15" transform="rotate(-43)"><text class="sl e" x="-318" y="3.5">SlZF-HD15</text></g>
<g id="VIII-BrZF-HD8" transform="rotate(-41)"><text class="br e" x="-318" y="3.5">BrZF-HD8</text></g>
<g id="VIII-BrZF-HD10" transform="rotate(-39)"><text class="br e" x="-318" y="3.5">BrZF-HD10</text></g>
<g id="VIII-AtZF-HD2" transform="rotate(-37)"><text class="at e" x="-318" y="3.5">AtZF-HD2</text></g>
<g id="VIII-OsZF-HD2" transform="rotate(-35)"><text class="os e" x="-318" y="3.5">OsZF-HD2</text></g>
<g id="VIII-OsZF-HD1" transform="rotate(-33)"><text class="os e" x="-318" y="3.5">OsZF-HD1</text></g>
<g id="VIII-PsZF-HD10" transform="rotate(-31)"><text class="ps e" x="-318" y="3.5">PsZF-HD10</text></g>
<g id="VIII-GmZF-HD36" transform="rotate(-29)"><text class="gm e" x="-318" y="3.5">GmZF-HD36</text></g>
<g id="VIII-PsZF-HD8" transform="rotate(-27)"><text class="ps e" x="-318" y="3.5">PsZF-HD8</text></g>
<g id="VIII-PsZF-HD3" transform="rotate(-25)"><text class="ps e" x="-318" y="3.5">PsZF-HD3</text></g>
<g id="VIII-GmZF-HD16" transform="rotate(-23)"><text class="gm e" x="-318" y="3.5">GmZF-HD16</text></g>
<g id="VIII-GmZF-HD15" transform="rotate(-21)"><text class="gm e" x="-318" y="3.5">GmZF-HD15</text></g>
<g id="VIII-GmZF-HD11" transform="rotate(-19)"><text class="gm e" x="-318" y="3.5">GmZF-HD11</text></g>
<g id="VIII-GmZF-HD10" transform="rotate(-17)"><text class="gm e" x="-318" y="3.5">GmZF-HD10</text></g>
<g id="VIII-GmZF-HD9" transform="rotate(-15)"><text class="gm e" x="-318" y="3.5">GmZF-HD9</text></g>
<g id="VIII-GmZF-HD24" transform="rotate(-13)"><text class="gm e" x="-318" y="3.5">GmZF-HD24</text></g>
<g id="VIII-GmZF-HD25" transform="rotate(-11)"><text class="gm e" x="-318" y="3.5">GmZF-HD25</text></g>
<g id="VIII-GmZF-HD23" transform="rotate(-9)"><text class="gm e" x="-318" y="3.5">GmZF-HD23</text></g>
<g id="VIII-GmZF-HD50" transform="rotate(-7)"><text class="gm e" x="-318" y="3.5">GmZF-HD50</text></g>
<g id="VIII-GmZF-HD48" transform="rotate(-5)"><text class="gm e" x="-318" y="3.5">GmZF-HD48</text></g>
<g id="VIII-GmZF-HD49" transform="rotate(-3)"><text class="gm e" x="-318" y="3.5">GmZF-HD49</text></g>
<g id="VIII-GmZF-HD7" transform="rotate(-1)"><text class="gm e" x="-318" y="3.5">GmZF-HD7</text></g>
<g id="VIII-MdZF-HD12" transform="rotate(1)"><text class="md e" x="-318" y="3.5">MdZF-HD12</text></g>
<g id="VIII-MdZF-HD5" transform="rotate(3)"><text class="md e" x="-318" y="3.5">MdZF-HD5</text></g>
<g id="VIII-MdZF-HD11" transform="rotate(5)"><text class="md e" x="-318" y="3.5">MdZF-HD11</text></g>
<g id="VIII-MdZF-HD1" transform="rotate(7)"><text class="md e" x="-318" y="3.5">MdZF-HD1</text></g>
<g id="VIII-SlZF-HD16" transform="rotate(9)"><text class="sl e" x="-318" y="3.5">SlZF-HD16</text></g>
<g id="VIII-PsZF-HD14" transform="rotate(11)"><text class="ps e" x="-318" y="3.5">PsZF-HD14</text></g>
<g id="VIII-PsZF-HD4" transform="rotate(13)"><text class="ps e" x="-318" y="3.5">PsZF-HD4</text></g>
<g id="VIII-GmZF-HD41" transform="rotate(15)"><text class="gm e" x="-318" y="3.5">GmZF-HD41</text></g>
<g id="VIII-GmZF-HD1" transform="rotate(17)"><text class="gm e" x="-318" y="3.5">GmZF-HD1</text></g>
<g id="VIII-GmZF-HD4" transform="rotate(19)"><text class="gm e" x="-318" y="3.5">GmZF-HD4</text></g>
</g>
</g>
<g id="clade-numerals" class="num">
<text x="266" y="20" class="m">I</text>
<text x="548" y="24" class="m">II</text>
<text x="683" y="123" class="m">III</text>
<text x="754" y="268">IV</text>
<text x="762" y="502">V</text>
<text x="656" y="680" class="m">VI</text>
<text x="337" y="778" class="m">VII</text>
<text x="0" y="530">VIII</text>
</g>
<g id="legend" class="leg">
<text x="583" y="720" fill="#EF4A4A">Glycine max</text>
<text x="582" y="740" fill="#C8168C">Pisum sativum</text>
<text x="575" y="760" fill="#0000FF">Solanum lycopersicum</text>
<text x="575" y="780" fill="#000000">Brassica rapa</text>
<text x="570" y="799" fill="#7B4DA8">Arabidopsis thaliana</text>
<text x="565" y="818" fill="#FFFF00">Oryza sativa</text>
<text x="565" y="837" fill="#00FF00">Malus domestica</text>
</g>
</svg>
